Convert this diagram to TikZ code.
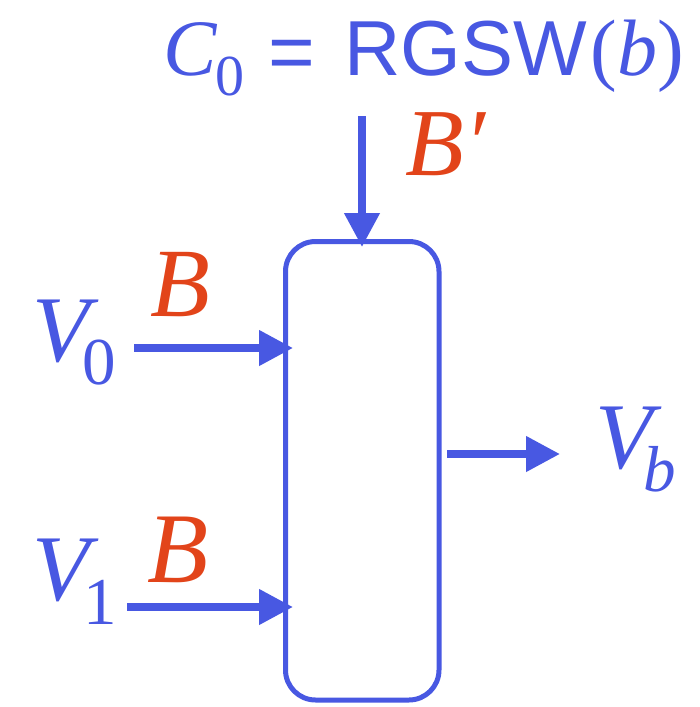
\documentclass[tikz,border=0pt]{standalone}
\usepackage{fontspec}
\setmainfont{Liberation Serif}
\newfontfamily\sansf{Liberation Sans}
\usetikzlibrary{arrows.meta}
\definecolor{myblue}{RGB}{72,88,226}
\definecolor{myred}{RGB}{226,68,26}
\begin{document}
\begin{tikzpicture}[x=1pt,y=-1pt,
  lbl/.style={anchor=base west,inner sep=0pt,outer sep=0pt,text=myblue},
  redlbl/.style={lbl,text=myred},
  arr/.style={draw=myblue,line width=7.5pt,-{Triangle[length=34pt,width=34pt]}},
  blockbox/.style={draw=myblue,line width=5pt,rounded corners=30pt,minimum width=153.5pt,minimum height=458.5pt,inner sep=0pt,outer sep=0pt}]
\useasboundingbox (0,0) rectangle (699,707);
\node[blockbox] (box) at (362.25,470.75) {};
% labels
\node[lbl] (c0) at (163.7,75) {\fontsize{80}{80}\selectfont\itshape C\kern-1.5pt\raisebox{-20pt}{\fontsize{58}{58}\selectfont\upshape 0}\kern24pt\raisebox{-4pt}{\sansf\upshape =}\kern29pt{\sansf\upshape\fontsize{78}{78}\selectfont RGSW}\kern3.5pt\upshape(\textit{b})};
\node[redlbl] (bp) at (405.8,175) {\fontsize{96}{96}\selectfont\itshape B\char"2032};
\node[lbl] (v0) at (32.2,361.3) {\fontsize{94}{94}\selectfont\itshape V\kern-7pt\raisebox{-22.7pt}{\fontsize{67}{67}\selectfont\upshape 0}};
\node[redlbl] (b0) at (150.8,316) {\fontsize{98}{98}\selectfont\itshape B};
\node[lbl] (v1) at (32.2,600.5) {\fontsize{94}{94}\selectfont\itshape V\kern-6pt\raisebox{-23.5pt}{\fontsize{67}{67}\selectfont\upshape 1}};
\node[redlbl] (b1) at (147.8,582) {\fontsize{100}{100}\selectfont\itshape B};
\node[lbl] (vb) at (595.2,468.3) {\fontsize{94}{94}\selectfont\itshape V\kern-9pt\raisebox{-23pt}{\fontsize{65}{65}\selectfont b}};
% arrows
\coordinate (c0a) at (362,116);
\coordinate (v0a) at (134,348);
\coordinate (v1a) at (127,607);
\coordinate (vbe) at (560,454);
\draw[arr,shorten >=-5.5pt] (c0a) -- (c0a |- box.north);
\draw[arr,shorten >=-7.5pt] (v0a) -- (v0a -| box.west);
\draw[arr,shorten >=-7.5pt] (v1a) -- (v1a -| box.west);
\draw[arr,shorten <=8pt] (vbe -| box.east) -- (vbe);
\end{tikzpicture}
\end{document}
